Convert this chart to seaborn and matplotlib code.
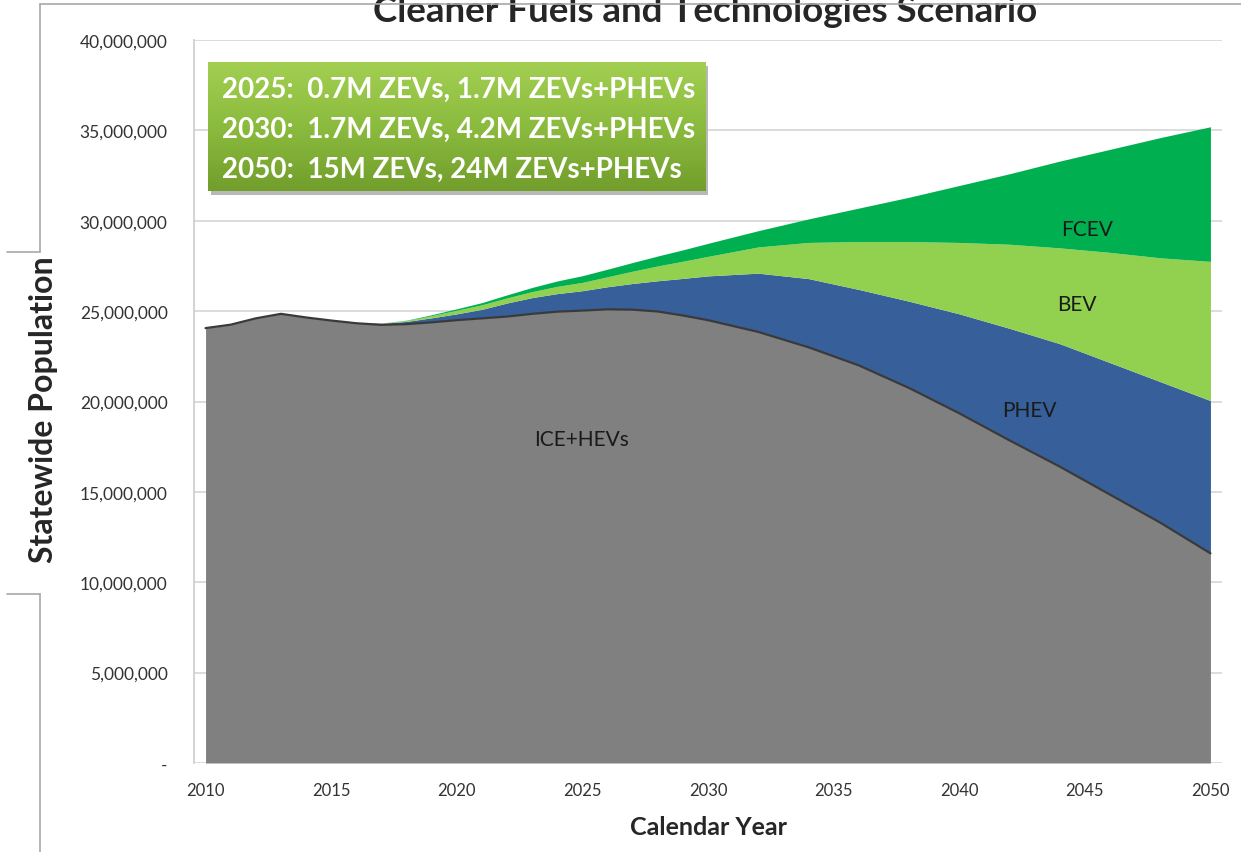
import numpy as np
import matplotlib
matplotlib.use("Agg")
import matplotlib.pyplot as plt
from matplotlib.ticker import FuncFormatter, MultipleLocator
from matplotlib.lines import Line2D
import seaborn as sns

# data (millions of vehicles)
years = [2010, 2011, 2012, 2013, 2014, 2015, 2016, 2017, 2018, 2019, 2020,
         2021, 2022, 2023, 2024, 2025, 2026, 2027, 2028, 2029, 2030,
         2032, 2034, 2036, 2038, 2040, 2042, 2044, 2046, 2048, 2050]
ice = [24.06, 24.25, 24.6, 24.85, 24.65, 24.48, 24.33, 24.24, 24.28, 24.38, 24.5,
       24.6, 24.7, 24.85, 24.97, 25.03, 25.1, 25.08, 24.98, 24.76, 24.5,
       23.85, 23.0, 22.0, 20.75, 19.35, 17.85, 16.4, 14.85, 13.3, 11.6]
phev = [0, 0, 0, 0, 0, 0.02, 0.04, 0.08, 0.15, 0.25, 0.35,
        0.5, 0.75, 0.9, 1.0, 1.1, 1.25, 1.45, 1.7, 2.05, 2.45,
        3.25, 3.8, 4.2, 4.8, 5.5, 6.2, 6.8, 7.3, 7.8, 8.45]
bev = [0, 0, 0, 0, 0, 0, 0, 0.02, 0.05, 0.12, 0.2,
       0.25, 0.28, 0.33, 0.4, 0.46, 0.55, 0.68, 0.82, 0.95, 1.08,
       1.45, 2.0, 2.65, 3.3, 3.95, 4.65, 5.3, 6.1, 6.85, 7.7]
fcev = [0, 0, 0, 0, 0, 0, 0, 0, 0.02, 0.05, 0.08,
        0.12, 0.17, 0.23, 0.3, 0.37, 0.42, 0.48, 0.55, 0.63, 0.72,
        0.9, 1.3, 1.85, 2.45, 3.15, 3.9, 4.8, 5.7, 6.65, 7.45]

series_names = ["ICE+HEVs", "PHEV", "BEV", "FCEV"]
series_colors = ["#808080", "#37609a", "#92d050", "#00b050"]
label_pos = {"ICE+HEVs": (2024.95, 17.93), "PHEV": (2042.8, 19.54),
             "BEV": (2044.7, 25.4), "FCEV": (2045.1, 29.55)}
summary_lines = ["2025:  0.7M ZEVs, 1.7M ZEVs+PHEVs",
                 "2030:  1.7M ZEVs, 4.2M ZEVs+PHEVs",
                 "2050:  15M ZEVs, 24M ZEVs+PHEVs"]

sns.set_style("white")
plt.rcParams["font.family"] = ["Lato", "DejaVu Sans"]

fig = plt.figure(figsize=(12.41, 8.53), dpi=100)
ax = fig.add_axes([194 / 1241, 1 - 764 / 853, 1028 / 1241, 723 / 853])

M = 1e6
stack = [np.array(s) * M for s in (ice, phev, bev, fcev)]
ax.stackplot(years, *stack, colors=series_colors, linewidth=0, zorder=2)
sns.lineplot(x=years, y=np.array(ice) * M, color="#3a3a3a", linewidth=1.6, ax=ax, zorder=3)

ax.set_xlim(2009.54, 2050.46)
ax.set_ylim(0, 40 * M)
ax.xaxis.set_major_locator(MultipleLocator(5))
ax.yaxis.set_major_locator(MultipleLocator(5 * M))
ax.yaxis.set_major_formatter(FuncFormatter(lambda v, p: "-" if v == 0 else f"{v:,.0f}"))
ax.grid(axis="y", color="#d9d9d9", linewidth=1.3, zorder=0)
ax.set_axisbelow(True)
for s in ["top", "right", "bottom"]:
    ax.spines[s].set_visible(False)
ax.spines["left"].set_color("#d0d0d0")
ax.spines["left"].set_linewidth(1.3)
ax.tick_params(axis="y", length=8, width=1.2, color="#d0d0d0", pad=11, labelsize=12.5, labelcolor="#333333")
ax.tick_params(axis="x", length=0, pad=14, labelsize=12, labelcolor="#333333")
ax.set_xlabel("Calendar Year", fontsize=18, fontweight="bold", labelpad=12)
ax.set_ylabel("Statewide Population", fontsize=23, fontweight="bold")
ax.yaxis.set_label_coords((58 - 194) / 1028, 0.49)

for name in series_names:
    x, y = label_pos[name]
    ax.text(x, y * M, name, fontsize=15, color="#1a1a1a", ha="center", va="center", zorder=4)

# title sits partly above the top edge, as in the source slide
fig.text(705 / 1241, 1 - 22 / 853, "Cleaner Fuels and Technologies Scenario",
         fontsize=26.5, fontweight="bold", ha="center", va="baseline")

# summary box with gradient
bx0, bx1, by0, by1 = 208, 705, 63, 192
shadow = fig.add_axes([(bx0 + 3) / 1241, 1 - (by1 + 4) / 853, (bx1 - bx0) / 1241, (by1 - by0) / 853])
shadow.set_facecolor("#b8b8b8")
shadow.set_xticks([])
shadow.set_yticks([])
for s in shadow.spines.values():
    s.set_visible(False)
box = fig.add_axes([bx0 / 1241, 1 - by1 / 853, (bx1 - bx0) / 1241, (by1 - by0) / 853])
grad = np.linspace(0, 1, 100).reshape(-1, 1)
cmap = matplotlib.colors.LinearSegmentedColormap.from_list("g", ["#a2cf52", "#8bbb3e", "#729e2c"])
box.imshow(grad, aspect="auto", cmap=cmap, extent=[0, 1, 0, 1], origin="upper")
box.axis("off")
for i, line in enumerate(summary_lines):
    fig.text(222 / 1241, 1 - (90 + 40 * i) / 853, line, fontsize=20, fontweight="bold",
             color="white", ha="left", va="center")

# slide frame lines
frame = [((40, 1241), (5, 5)), ((40, 40), (5, 253)), ((7, 40), (253, 253)),
         ((7, 40), (595, 595)), ((40, 40), (595, 853))]
for xs, ys in frame:
    fig.add_artist(Line2D([x / 1241 for x in xs], [1 - y / 853 for y in ys],
                          color="#a8a8a8", linewidth=1.2, zorder=10))

fig.savefig("out.png", dpi=100)
